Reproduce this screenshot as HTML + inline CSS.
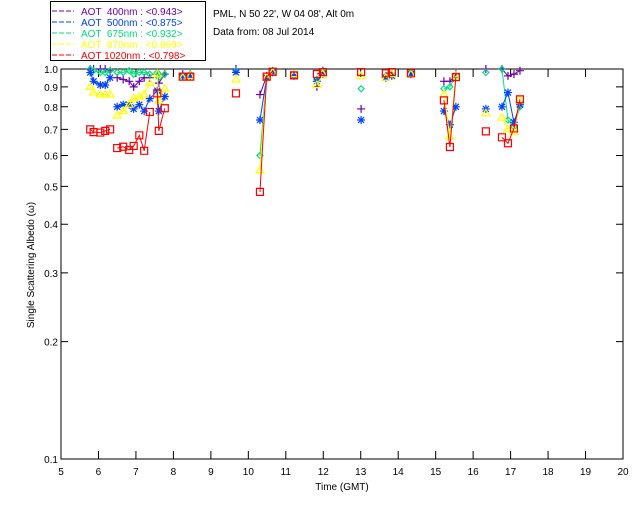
<!DOCTYPE html>
<html><head><meta charset="utf-8"><style>
body{margin:0;background:#fff;}
svg{display:block;font-family:"Liberation Sans",sans-serif;}
</style></head><body>
<svg id="chart" width="640" height="512" viewBox="0 0 640 512">
<g>
<rect x="50.5" y="1.5" width="155" height="59" fill="#fff" stroke="#000"/>
<g font-size="10">
<g><line x1="52" y1="11" x2="74" y2="11" stroke="#6a00b0" stroke-dasharray="5,2"/><text x="81" y="15" fill="#6a00b0" xml:space="preserve">AOT  400nm : &lt;0.943&gt;</text></g>
<g><line x1="52" y1="22" x2="74" y2="22" stroke="#0040ff" stroke-dasharray="5,2"/><text x="81" y="26" fill="#0040ff" xml:space="preserve">AOT  500nm : &lt;0.875&gt;</text></g>
<g><line x1="52" y1="33" x2="74" y2="33" stroke="#00e080" stroke-dasharray="5,2"/><text x="81" y="37" fill="#00e080" xml:space="preserve">AOT  675nm : &lt;0.932&gt;</text></g>
<g><line x1="52" y1="44" x2="74" y2="44" stroke="#ffff00" stroke-dasharray="5,2"/><text x="81" y="48" fill="#ffff00" xml:space="preserve">AOT  870nm : &lt;0.869&gt;</text></g>
<g><line x1="52" y1="55" x2="74" y2="55" stroke="#ff0000" stroke-dasharray="5,2"/><text x="81" y="59" fill="#ff0000" xml:space="preserve">AOT 1020nm : &lt;0.798&gt;</text></g>
</g></g>
<text x="213" y="17" font-size="10">PML, N 50 22', W 04 08', Alt 0m</text>
<text x="213" y="35" font-size="10">Data from: 08 Jul 2014</text>
<g id="axes"></g>
<g id="series"></g>
<text x="342" y="490" font-size="10" text-anchor="middle">Time (GMT)</text>
<text transform="translate(34,265) rotate(-90)" font-size="10" text-anchor="middle">Single Scattering Albedo (ω)</text>
</svg>
<script>
const times=[5.78,5.87,6.05,6.18,6.31,6.50,6.66,6.82,6.94,7.09,7.22,7.37,7.57,7.61,7.77,8.25,8.45,9.67,10.31,10.49,10.65,11.22,11.83,11.99,13.01,13.67,13.83,14.34,15.22,15.38,15.54,16.34,16.77,16.93,17.09,17.25];
const v400=[1.0,1.0,1.0,1.0,0.99,0.95,0.94,0.93,0.90,0.93,0.95,0.95,0.97,0.92,0.97,0.97,0.97,1.0,0.86,0.96,0.99,0.98,0.90,0.99,0.79,0.96,0.97,0.98,0.93,0.93,0.97,1.0,1.0,0.96,0.97,0.99];
const v500=[0.98,0.93,0.91,0.91,0.95,0.80,0.81,0.81,0.79,0.81,0.78,0.84,0.88,0.78,0.85,0.96,0.96,0.98,0.74,0.95,0.98,0.96,0.93,0.97,0.74,0.95,0.96,0.97,0.78,0.72,0.80,0.79,0.80,0.87,0.73,0.81];
const v675=[1.0,0.99,0.98,0.98,0.99,0.98,0.98,0.99,0.97,0.98,0.98,0.97,0.98,0.95,0.97,0.96,0.97,0.99,0.60,0.95,0.99,0.97,0.94,0.98,0.89,0.96,0.97,0.98,0.89,0.90,0.96,0.98,1.0,0.74,0.71,0.80];
const v870=[0.90,0.87,0.86,0.86,0.86,0.76,0.78,0.81,0.84,0.85,0.86,0.92,0.97,0.83,0.89,0.95,0.96,0.94,0.55,0.95,0.98,0.97,0.91,0.97,0.96,0.95,0.97,0.97,0.86,0.67,0.96,0.77,0.75,0.70,0.69,0.83];
const v1020=[0.700,0.689,0.687,0.694,0.700,0.627,0.632,0.620,0.635,0.676,0.617,0.776,0.866,0.694,0.793,0.956,0.956,0.866,0.484,0.956,0.984,0.963,0.971,0.982,0.982,0.975,0.982,0.975,0.831,0.631,0.954,0.692,0.668,0.645,0.704,0.836];
const xTicks=[5,6,7,8,9,10,11,12,13,14,15,16,17,18,19,20];
const yTicks=[1.0,0.9,0.8,0.7,0.6,0.5,0.4,0.3,0.2,0.1];
const yTickLabels=["1.0","0.9","0.8","0.7","0.6","0.5","0.4","0.3","0.2","0.1"];

const L=61,R=623,T=69,B=459;
const xs=t=>L+(t-5)/(20-5)*(R-L);
const ys=v=>T+(-Math.log10(v))*(B-T);
const NS="http://www.w3.org/2000/svg";
function mk(tag,attrs,parent){const e=document.createElementNS(NS,tag);for(const k in attrs)e.setAttribute(k,attrs[k]);parent.appendChild(e);return e;}
const axes=document.getElementById('axes');
const frame=mk('path',{d:`M${L},${T}H${R}V${B}H${L}Z`,fill:'none',stroke:'#000','stroke-width':1},axes);


xTicks.forEach(t=>{
  const x=xs(t);
  const tk=mk('path',{d:`M${x},${B}v-8M${x},${T}v8`,stroke:'#000'},axes);
  
  
  const lb=mk('text',{x:x,y:B+16,'font-size':10,'text-anchor':'middle'},axes);
  lb.textContent=t;
  
  
});
yTicks.forEach((v,i)=>{
  const y=ys(v);
  const tk=mk('path',{d:`M${L},${y}h7M${R},${y}h-7`,stroke:'#000'},axes);
  
  
  const lb=mk('text',{x:L-3,y:y+4,'font-size':10,'text-anchor':'end'},axes);
  lb.textContent=yTickLabels[i];
  
  
});
const series=[
 {name:'400',vals:v400,color:'#6a00b0',m:'plus'},
 {name:'675',vals:v675,color:'#00e080',m:'diamond'},
 {name:'500',vals:v500,color:'#0040ff',m:'star'},
 {name:'870',vals:v870,color:'#ffff00',m:'tri'},
 {name:'1020',vals:v1020,color:'#ff0000',m:'square'}];
const sg=document.getElementById('series');
function marker(kind,x,y){
  if(kind==='plus')return `M${x-4},${y}h8M${x},${y-4}v8`;
  if(kind==='star')return `M${x-4},${y}h8M${x},${y-4}v8M${x-3},${y-3}l6,6M${x-3},${y+3}l6,-6`;
  if(kind==='diamond')return `M${x},${y-3}l3,3l-3,3l-3,-3Z`;
  if(kind==='tri')return `M${x},${y-4}l4,6.5h-8Z`;
  return `M${x-3.5},${y-3.5}h7v7h-7Z`;
}
series.forEach(s=>{
  const g=mk('g',{},sg);
  
  
  let d='';
  times.forEach((t,i)=>{
    const x=xs(t),y=ys(s.vals[i]);
    d+=(i>0&&t-times[i-1]<0.19?'L':'M')+x+','+y;
  });
  const ln=mk('path',{d:d,fill:'none',stroke:s.color,'stroke-width':1},g);
  
  
  times.forEach((t,i)=>{
    const p=mk('path',{d:marker(s.m,xs(t),ys(s.vals[i])),fill:'none',stroke:s.color,'stroke-width':1.2},g);
    
    
  });
});
</script>
</body></html>
